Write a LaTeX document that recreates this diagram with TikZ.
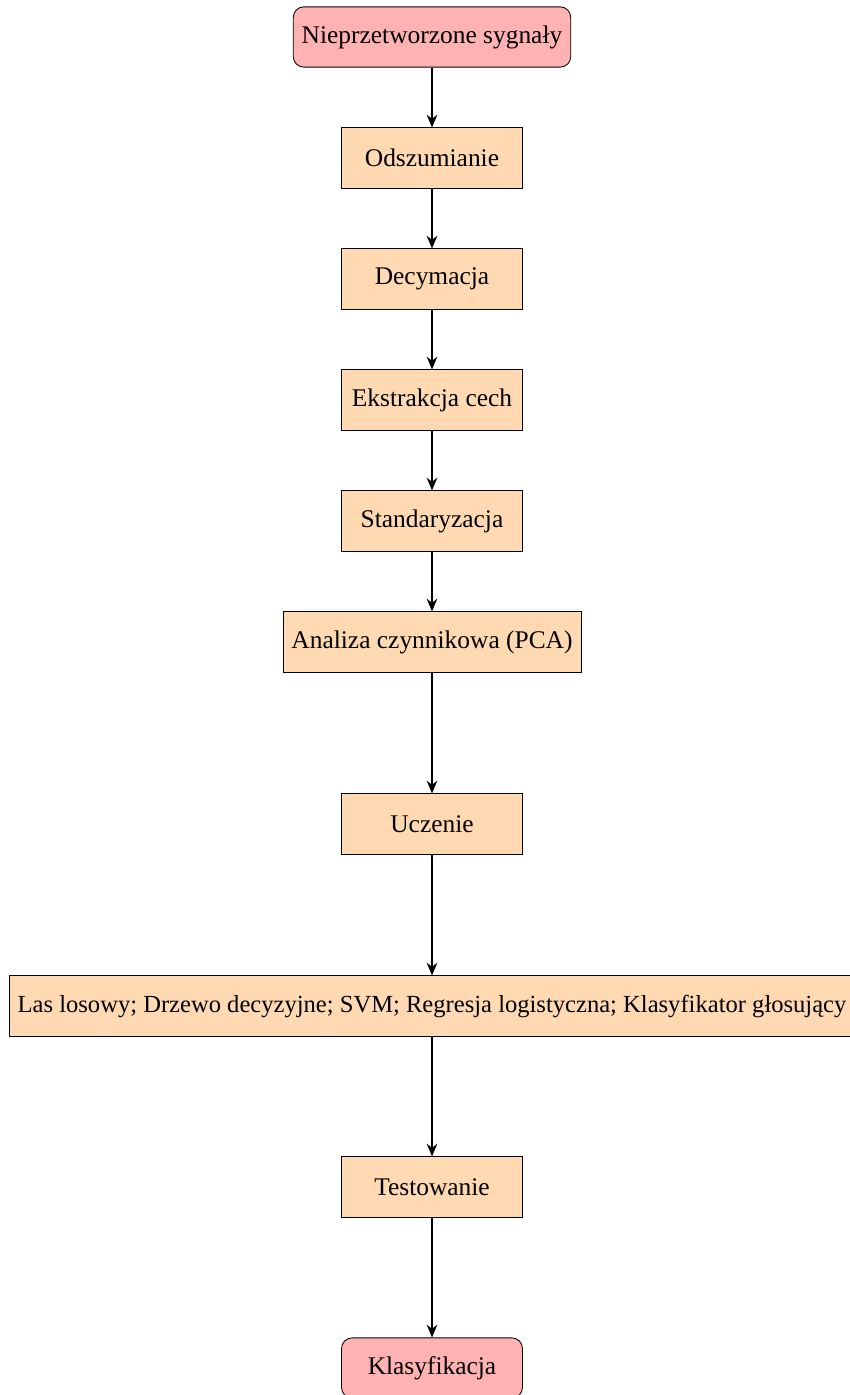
\documentclass[tikz,border=0pt]{standalone}
\usepackage{fontspec}
\setmainfont{Liberation Serif}
\usetikzlibrary{arrows.meta}
\tikzset{
  endbox/.style={draw=black, fill=red!30, rounded corners=5pt, minimum width=3cm, minimum height=1cm, font=\fontsize{12}{14}\selectfont, inner sep=4pt},
  procbox/.style={draw=black, fill=orange!30, minimum width=3cm, minimum height=1cm, font=\fontsize{12}{14}\selectfont, inner sep=4pt},
  widebox/.style={procbox, font=\fontsize{11.6}{14}\selectfont},
  flow/.style={-{Stealth[length=6pt,width=5pt]}, thick, black}
}
\begin{document}
\begin{tikzpicture}[x=0.01658cm, y=-0.01658cm]
\useasboundingbox (0,0) rectangle (849,1395);
\node[endbox] (n1) at (432,37) {Nieprzetworzone sygnały};
\node[procbox] (n2) at (432,158) {Odszumianie};
\node[procbox] (n3) at (432,279) {Decymacja};
\node[procbox] (n4) at (432,400) {Ekstrakcja cech};
\node[procbox] (n5) at (432,521) {Standaryzacja};
\node[procbox] (n6) at (432,642) {Analiza czynnikowa (PCA)};
\node[procbox] (n7) at (432,824) {Uczenie};
\node[widebox] (n8) at (432,1006) {Las losowy; Drzewo decyzyjne; SVM; Regresja logistyczna; Klasyfikator głosujący};
\node[procbox] (n9) at (432,1187) {Testowanie};
\node[endbox] (n10) at (432,1368) {Klasyfikacja};
\draw[flow] (n1) -- (n2);
\draw[flow] (n2) -- (n3);
\draw[flow] (n3) -- (n4);
\draw[flow] (n4) -- (n5);
\draw[flow] (n5) -- (n6);
\draw[flow] (n6) -- (n7);
\draw[flow] (n7) -- (n8);
\draw[flow] (n8) -- (n9);
\draw[flow] (n9) -- (n10);
\end{tikzpicture}
\end{document}
